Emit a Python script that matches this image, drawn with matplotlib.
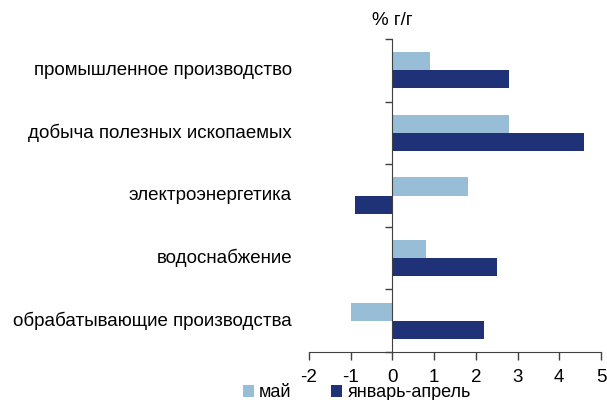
import numpy as np
import matplotlib.pyplot as plt
from matplotlib.ticker import FixedLocator

plt.rcParams['font.family'] = ['Liberation Sans', 'DejaVu Sans']
plt.rcParams['axes.unicode_minus'] = False

categories = ["промышленное производство", "добыча полезных ископаемых",
              "электроэнергетика", "водоснабжение",
              "обрабатывающие производства"]
may = [0.9, 2.8, 1.8, 0.8, -1.0]
jan_apr = [2.8, 4.6, -0.9, 2.5, 2.2]
series_labels = ["май", "январь-апрель"]

c_light = "#97BDD7"
c_dark = "#1F3278"
axc = "#404040"
fs = 13.5

fig = plt.figure(figsize=(6.07, 4.0), dpi=100)
ax = fig.add_axes([309/607, 1-352/400, 292/607, 313/400])

y = np.arange(len(categories))
h = 0.29
ax.barh(y - h/2, may, height=h, color=c_light, label=series_labels[0])
ax.barh(y + h/2, jan_apr, height=h, color=c_dark, label=series_labels[1])

ax.set_xlim(-2, 5)
ax.set_ylim(len(categories) - 0.5, -0.5)
ax.set_xticks(range(-2, 6))
ax.tick_params(axis='x', labelsize=fs, length=6, width=1, color=axc, pad=6)

for s in ['top', 'right']:
    ax.spines[s].set_visible(False)
ax.spines['left'].set_position(('data', 0))
ax.spines['left'].set_color(axc)
ax.spines['bottom'].set_color(axc)

ax.set_yticks([])
ax.yaxis.set_minor_locator(FixedLocator(np.arange(-0.5, len(categories), 1)))
ax.tick_params(axis='y', which='minor', length=5, width=1, color=axc, direction='out')

tr = ax.get_yaxis_transform()
for yi, name in zip(y, categories):
    ax.text(-17/292, yi, name, transform=tr, ha='right', va='center', fontsize=fs)

ax.text(2/7, 1.06, "% г/г", transform=ax.transAxes, ha='center', va='center', fontsize=fs)

ax.legend(loc='center', bbox_to_anchor=(0.588, 0.018), bbox_transform=fig.transFigure,
          ncol=2, frameon=False, fontsize=13, handlelength=0.6, handleheight=0.6,
          handletextpad=0.3, columnspacing=2.2, borderpad=0)

fig.savefig("out.png", dpi=100)
